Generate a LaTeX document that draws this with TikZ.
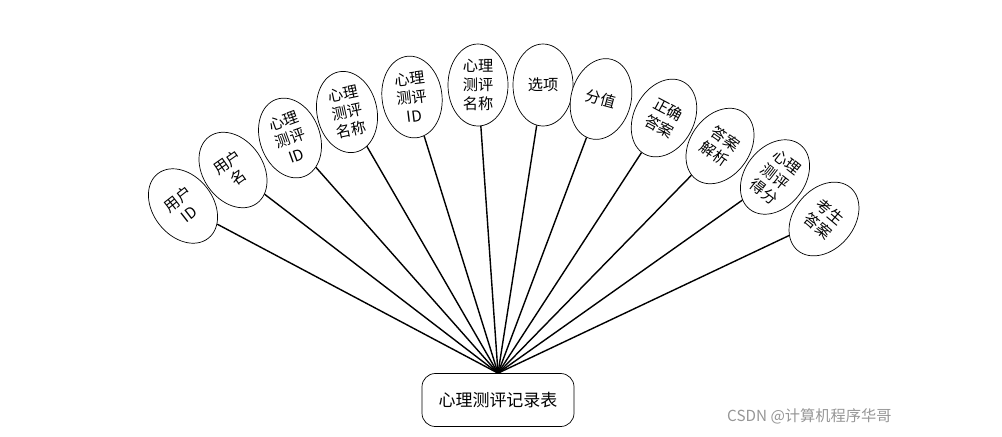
\documentclass[tikz,border=0pt]{standalone}
\usepackage{fontspec}
\setmainfont{Noto Sans CJK SC}
\usepackage{xcolor}
\usepackage{tikz}
\definecolor{wmgray}{RGB}{150,150,150}
\usetikzlibrary{shapes,positioning}
\tikzset{
    attr/.style={ellipse, draw=black, fill=white, line width=0.6pt, minimum width=1.8cm, minimum height=2.46cm, inner sep=0pt, align=center, font=\fontsize{13}{16}\selectfont},
    entity/.style={rectangle, rounded corners=0.4cm, draw=black, fill=white, line width=0.6pt, minimum width=4.56cm, minimum height=1.59cm, font=\fontsize{14.5}{17}\selectfont},
    link/.style={line width=1.2pt, color=black},
}
\begin{document}
\begin{tikzpicture}[x=0.03cm, y=-0.03cm]
    \useasboundingbox (0,0) rectangle (1002,436);

    % Entity
    \node[entity] (rec) at (498,400) {心理测评记录表};

    % Attributes
    \node[attr, rotate=38] (uid) at (183,206) {用户\\ID};
    \node[attr, rotate=35] (uname) at (233,170) {用户\\名};
    \node[attr, rotate=20] (tid1) at (290,138) {心理\\测评\\ID};
    \node[attr, rotate=12] (tname1) at (347,112) {心理\\测评\\名称};
    \node[attr, rotate=7] (tid2) at (412,97) {心理\\测评\\ID};
    \node[attr] (tname2) at (478,85) {心理\\测评\\名称};
    \node[attr] (opt) at (543,85) {选项};
    \node[attr, rotate=-15] (score) at (601,99) {分值};
    \node[attr, rotate=-28] (right) at (664,118) {正确\\答案};
    \node[attr, rotate=-35] (expl) at (720,146) {答案\\解析};
    \node[attr, rotate=-38] (total) at (775,177) {心理\\测评\\得分};
    \node[attr, rotate=-40] (ans) at (824,219) {考生\\答案};

    % Links
    \draw[link] (rec.north) -- (uid);
    \draw[link] (rec.north) -- (uname);
    \draw[link] (rec.north) -- (tid1);
    \draw[link] (rec.north) -- (tname1);
    \draw[link] (rec.north) -- (tid2);
    \draw[link] (rec.north) -- (tname2);
    \draw[link] (rec.north) -- (opt);
    \draw[link] (rec.north) -- (score);
    \draw[link] (rec.north) -- (right);
    \draw[link] (rec.north) -- (expl);
    \draw[link] (rec.north) -- (total);
    \draw[link] (rec.north) -- (ans);

    % Watermark
    \node[text=wmgray, font=\fontsize{13}{15}\selectfont, anchor=west, inner sep=0pt] (csdn) at (727,416) {CSDN @计算机程序华哥};
\end{tikzpicture}
\end{document}
